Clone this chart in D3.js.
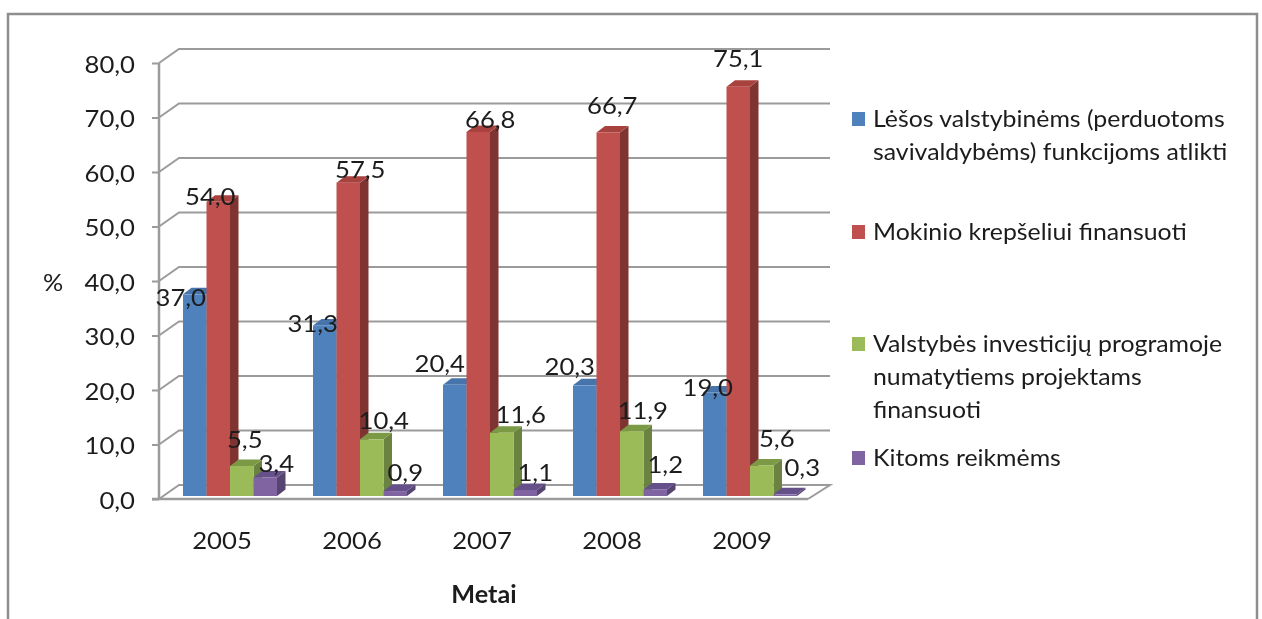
<!DOCTYPE html>
<html><head><meta charset="utf-8">
<script src="https://cdn.jsdelivr.net/npm/d3@7/dist/d3.min.js"></script>
<style>html,body{margin:0;padding:0;background:#fff}svg{display:block;filter:blur(0.45px)}
text{font-family:Lato,"Open Sans",sans-serif;fill:#1c1c1c}</style></head>
<body><svg id="c" width="1262" height="619"></svg>
<script>
const years = ["2005","2006","2007","2008","2009"];
const seriesNames = ["blue","red","green","purple"];
const lesos = [37.0,31.3,20.4,20.3,19.0];
const krepselis = [54.0,57.5,66.8,66.7,75.1];
const investicijos = [5.5,10.4,11.6,11.9,5.6];
const kitos = [3.4,0.9,1.1,1.2,0.3];
const yTicks = [0,10,20,30,40,50,60,70,80];
const legendLabels = [
  ["Lėšos valstybinėms (perduotoms","savivaldybėms) funkcijoms atlikti"],
  ["Mokinio krepšeliui finansuoti"],
  ["Valstybės investicijų programoje","numatytiems projektams","finansuoti"],
  ["Kitoms reikmėms"]];
const values = [lesos,krepselis,investicijos,kitos];
const face = ["#4f81bd","#c0504d","#9bbb59","#8064a2"];
const side = ["#3a6090","#7f3432","#6b8340","#574571"];
const topc = ["#4774aa","#a8423f","#7c9a45","#65508a"];
// manually placed data label nudges, per series then per year
const nudgeX = [[-14,-12,-15,-15,-7],[-8,12,12,4,0],[3,12,19,11,15],[11,10,10,10,17]];
const nudgeY = [[2,-3,-22,-20,-6],[-6,-14,-13,-28,-29],[-28,-20,-19,-22,-28],[-15,-20,-19,-26,-28]];
const fmt = v => v.toFixed(1).replace(".",",");
const svg = d3.select("#c");
const FS = 24, NUM = 1.07, TXT = 1.035;
const FF = 'Lato,"Open Sans",sans-serif';
function stretch(sel, k){ sel.each(function(){
  d3.select(this).attr("textLength",this.getComputedTextLength()*k).attr("lengthAdjust","spacingAndGlyphs");
});}

// frame
svg.append("path").attr("d","M8,619V14H1257V619").attr("fill","none").attr("stroke","#8e8e8e").attr("stroke-width",2.5);

const yFront = d3.scaleLinear().domain([0,80]).range([499,63]);
const yBar = d3.scaleLinear().domain([0,80]).range([496,60]);
const xCat = d3.scaleBand().domain(years).range([165,815]);
const xSer = d3.scaleBand().domain(seriesNames).range([18,112]);
const DX=20, DY=-14, GR="#9b9b9b";

const grid = svg.append("g").attr("fill","none").attr("stroke",GR).attr("stroke-width",2);
const xBack = 830;
grid.selectAll("path.g").data(yTicks.slice(1)).join("path").attr("class","g")
  .attr("d",d=>{const y=yFront(d);return `M159,${y}L${159+DX},${y+DY}H${xBack}`});
const y0=yFront(0);
grid.append("path").attr("d",`M159,${y0}L${159+DX},${y0+DY}H${xBack}L808,${y0}`);

// y axis
const yAxis = d3.axisLeft(yFront).tickValues(yTicks).tickSize(7).tickPadding(17).tickFormat(fmt);
const gy = svg.append("g").attr("transform","translate(159,0)").call(yAxis);
gy.selectAll("text").attr("font-size",FS).style("font-family",FF).attr("dy","0.38em").call(stretch,NUM);
gy.selectAll("line").attr("stroke",GR).attr("stroke-width",2);
gy.select(".domain").attr("stroke",GR).attr("stroke-width",2.5).attr("d",`M0,${yFront(80)}V${y0}`);

// x axis
const xAxis = d3.axisBottom(xCat.copy().range([157,807])).tickSize(0).tickPadding(33);
const gx = svg.append("g").attr("transform",`translate(0,${y0})`).call(xAxis);
gx.selectAll("text").attr("font-size",FS).style("font-family",FF).call(stretch,NUM);
gx.select(".domain").attr("stroke",GR).attr("stroke-width",2.5).attr("d","M152,0H808");

// bars
const bars = svg.append("g");
const bd=8.5, bh=-6.5;
years.forEach((yr,i)=>{
  values.forEach((ser,s)=>{
    const v=ser[i], name=seriesNames[s];
    const x=xCat(yr)+xSer(name), w=xSer.bandwidth(), yt=yBar(v), yb=yBar(0);
    const g=bars.append("g");
    g.append("path").attr("fill",side[s]).attr("d",`M${x+w},${yb}L${x+w+bd},${yb+bh}V${yt+bh}L${x+w},${yt}Z`);
    g.append("path").attr("fill",topc[s]).attr("d",`M${x},${yt}L${x+bd},${yt+bh}H${x+w+bd}L${x+w},${yt}Z`);
    g.append("rect").attr("x",x).attr("y",yt).attr("width",w).attr("height",yb-yt).attr("fill",face[s]);
  });
});

// data labels
const labels = svg.append("g").attr("text-anchor","middle").attr("font-size",FS);
years.forEach((yr,i)=>values.forEach((ser,s)=>{
  labels.append("text")
    .attr("x",xCat(yr)+xSer(seriesNames[s])+xSer.bandwidth()/2+nudgeX[s][i])
    .attr("y",yBar(ser[i])+nudgeY[s][i]).attr("dominant-baseline","central").text(fmt(ser[i])).call(stretch,NUM);
}));

// titles
svg.append("text").attr("x",53).attr("y",291).attr("text-anchor","middle").attr("font-size",FS).text("%").call(stretch,1.05);
svg.append("text").attr("x",484).attr("y",603).attr("text-anchor","middle").attr("font-size",FS).attr("font-weight",700).text("Metai").call(stretch,1.05);

// legend
const legY=[119,232,344,458];
const lg=svg.append("g");
legendLabels.forEach((lines,s)=>{
  lg.append("rect").attr("x",852).attr("y",legY[s]-7).attr("width",13).attr("height",14).attr("fill",face[s]);
  lines.forEach((t,j)=>lg.append("text").attr("x",873).attr("y",legY[s]+j*33+8).attr("font-size",FS).text(t).call(stretch,TXT));
});
</script></body></html>
